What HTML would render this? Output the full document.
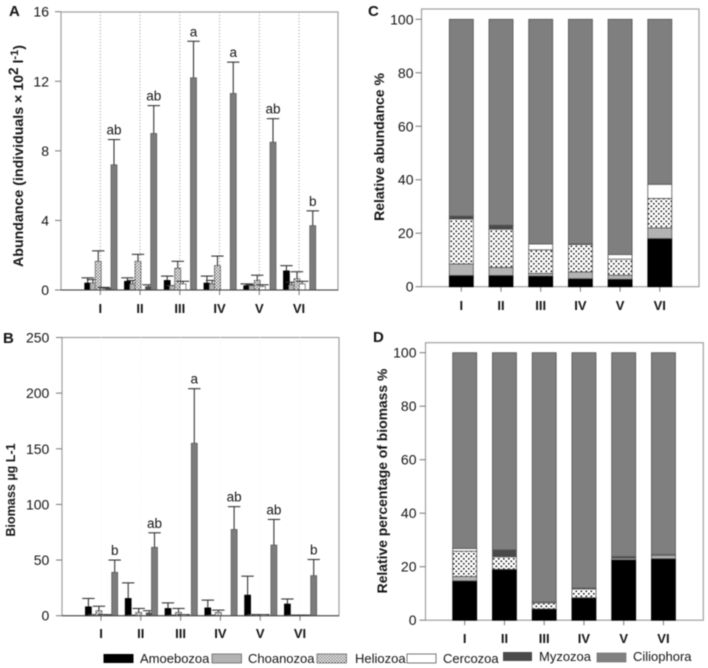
<!DOCTYPE html>
<html lang="en">
<head>
<meta charset="utf-8">
<title>Protist abundance and biomass</title>
<style>
html,body{margin:0;padding:0;background:#fff;}
body{width:708px;height:668px;overflow:hidden;}
svg{display:block;font-family:"Liberation Sans",sans-serif;filter:blur(0.4px);}
text{fill:#141414;}
</style>
</head>
<body>
<svg id="figure" xmlns="http://www.w3.org/2000/svg" width="708" height="668" viewBox="0 0 708 668">
  <defs>
    <pattern id="dots" width="5" height="5" patternUnits="userSpaceOnUse">
      <rect width="5" height="5" fill="#fff"/>
      <rect x="0.5" y="0.5" width="1.6" height="1.6" fill="#222"/>
      <rect x="3" y="3" width="1.6" height="1.6" fill="#222"/>
    </pattern>
    <pattern id="dense" width="3" height="3" patternUnits="userSpaceOnUse">
      <rect width="3" height="3" fill="#fff"/>
      <rect x="0" y="0" width="1.3" height="1.3" fill="#555"/>
      <rect x="1.5" y="1.5" width="1.3" height="1.3" fill="#555"/>
    </pattern>
  </defs>

  <g id="panelA"></g>
  <g id="panelB"></g>
  <g id="panelC"></g>
  <g id="panelD"></g>

  <text x="9" y="16" font-size="15" font-weight="bold">A</text>
  <text x="3" y="343" font-size="15" font-weight="bold">B</text>
  <text x="368" y="16" font-size="15" font-weight="bold">C</text>
  <text x="373" y="342" font-size="15" font-weight="bold">D</text>

  <text transform="translate(23,156) rotate(-90)" text-anchor="middle" font-size="14.2" font-weight="bold">Abundance (individuals × 10<tspan font-size="13.5" dy="-5">2</tspan><tspan dy="5"> l</tspan><tspan font-size="11" dy="-5">-1</tspan><tspan dy="5">)</tspan></text>
  <text transform="translate(15,490) rotate(-90)" text-anchor="middle" font-size="12.6" font-weight="bold">Biomass µg L-1</text>
  <text transform="translate(384,147) rotate(-90)" text-anchor="middle" font-size="14" font-weight="bold">Relative abundance %</text>
  <text transform="translate(387,481) rotate(-90)" text-anchor="middle" font-size="13.9" font-weight="bold">Relative percentage of biomass %</text>

  <g>
    <g>
      <rect x="103.5" y="654" width="30" height="9" fill="#000"/>
      <text x="140" y="663" font-size="13">Amoebozoa</text>
    </g>
    <g>
      <rect x="212" y="654" width="29.5" height="9" fill="#b3b3b3" stroke="#666" stroke-width="0.8"/>
      <text x="248" y="663" font-size="13">Choanozoa</text>
    </g>
    <g>
      <rect x="317" y="654" width="29.5" height="9" fill="url(#dense)" stroke="#666" stroke-width="0.8"/>
      <text x="355" y="663" font-size="13">Heliozoa</text>
    </g>
    <g>
      <rect x="407" y="654" width="29" height="9" fill="#fff" stroke="#555" stroke-width="0.8"/>
      <text x="443" y="663" font-size="13">Cercozoa</text>
    </g>
    <g>
      <rect x="503" y="652" width="29" height="9" fill="#4a4a4a"/>
      <text x="539" y="661" font-size="13">Myzozoa</text>
    </g>
    <g>
      <rect x="597" y="653" width="29" height="9" fill="#808080" stroke="#666" stroke-width="0.6"/>
      <text x="633" y="661" font-size="13">Ciliophora</text>
    </g>
  </g>
</svg>

<script>
// Shared categories and series
const categories = ['I', 'II', 'III', 'IV', 'V', 'VI'];
const seriesNames = ['amoebozoa', 'choanozoa', 'heliozoa', 'cercozoa', 'myzozoa', 'ciliophora'];

// Panel A: abundance means and upper error-bar tops (individuals x 10^2 per litre)
const abundanceAmoebozoa = [0.4, 0.5, 0.55, 0.4, 0.25, 1.1];
const abundanceChoanozoa = [0.4, 0.35, 0.25, 0.35, 0.25, 0.3];
const abundanceHeliozoa = [1.65, 1.65, 1.25, 1.4, 0.55, 0.65];
const abundanceCercozoa = [0.1, 0, 0.35, 0, 0.2, 0.35];
const abundanceMyzozoa = [0.05, 0.2, 0, 0, 0, 0];
const abundanceCiliophora = [7.2, 9, 12.2, 11.3, 8.5, 3.7];
const abundanceAmoebozoaErr = [0.7, 0.7, 0.8, 0.8, 0.35, 1.4];
const abundanceChoanozoaErr = [0.6, 0.55, 0.25, 0.55, 0.3, 0.45];
const abundanceHeliozoaErr = [2.25, 2.05, 1.65, 1.95, 0.85, 1.05];
const abundanceCercozoaErr = [0.15, 0, 0.5, 0, 0.3, 0.5];
const abundanceMyzozoaErr = [0.1, 0.3, 0, 0, 0, 0];
const abundanceCiliophoraErr = [8.65, 10.6, 14.3, 13.1, 9.85, 4.55];
const abundanceLetters = ['ab', 'ab', 'a', 'a', 'ab', 'b'];
const abundanceTicks = [0, 4, 8, 12, 16];

// Panel B: biomass means and upper error-bar tops (ug per litre)
const biomassAmoebozoa = [8, 15.5, 6.5, 7, 18.5, 10.5];
const biomassChoanozoa = [1, 0.5, 0.5, 0.5, 1, 0.5];
const biomassHeliozoa = [4.5, 3, 3, 3, 1, 0.5];
const biomassCercozoa = [1, 0, 1, 0, 1, 0.5];
const biomassMyzozoa = [1, 2.5, 0, 0, 0, 0.5];
const biomassCiliophora = [39, 61.5, 155, 77.5, 63.5, 36];
const biomassAmoebozoaErr = [15.5, 29.5, 11.5, 14, 35.5, 15];
const biomassChoanozoaErr = [1, 0.5, 0.5, 0.5, 1, 0.5];
const biomassHeliozoaErr = [8.5, 6.5, 6.5, 5, 1, 0.5];
const biomassCercozoaErr = [1, 0, 1, 0, 1, 0.5];
const biomassMyzozoaErr = [1, 4.5, 0, 0, 0, 0.5];
const biomassCiliophoraErr = [50, 74.5, 204, 98, 86.5, 50.5];
const biomassLetters = ['b', 'ab', 'a', 'ab', 'ab', 'b'];
const biomassTicks = [0, 50, 100, 150, 200, 250];

// Panel C: relative abundance (%), one segment per series
const relAbundanceAmoebozoa = [4.2, 4.2, 4, 3, 2.8, 18];
const relAbundanceChoanozoa = [4.3, 3, 1, 2.5, 1.5, 4];
const relAbundanceHeliozoa = [16.8, 14.3, 8.8, 10.3, 6, 11];
const relAbundanceCercozoa = [0, 0, 2.2, 0.2, 1.7, 5.3];
const relAbundanceMyzozoa = [1.1, 1.5, 0, 0, 0, 0];
const relAbundanceCiliophora = [73.6, 77, 84, 84, 88, 61.7];

// Panel D: relative biomass (%), one segment per series
const relBiomassAmoebozoa = [14.7, 19, 4.2, 8.4, 22.6, 23];
const relBiomassChoanozoa = [1.6, 0, 0, 0, 0.6, 1.2];
const relBiomassHeliozoa = [9.5, 4.7, 2.2, 3.3, 0, 0];
const relBiomassCercozoa = [1, 0, 0.4, 0.3, 0, 0.4];
const relBiomassMyzozoa = [0, 2.6, 0, 0, 0.6, 0];
const relBiomassCiliophora = [73.2, 73.7, 93.2, 88, 76.2, 75.4];
const percentTicks = [0, 20, 40, 60, 80, 100];

const NS = 'http://www.w3.org/2000/svg';
const fills = ['#000', '#b3b3b3', 'url(#dense)', '#fff', '#4a4a4a', '#7c7c7c'];
const stackFills = ['#000', '#b3b3b3', 'url(#dots)', '#fff', '#4a4a4a', '#7f7f7f'];

function make(parent, tag, attrs, txt) {
  const n = document.createElementNS(NS, tag);
  for (const k in attrs) n.setAttribute(k, attrs[k]);
  if (txt !== undefined) n.textContent = txt;
  parent.appendChild(n);
  return n;
}

function axisFrame(root, p, ticks, prefix) {
  const y = v => p.y0 + (p.y1 - p.y0) * (v - p.min) / (p.max - p.min);
  const frame = make(root, 'rect', {x: p.left, y: p.top, width: p.right - p.left, height: p.y0 - p.top, fill: '#fff', stroke: '#a0a0a0', 'stroke-width': 1.2});
  
  
  ticks.forEach(t => {
    const tick = make(root, 'line', {x1: p.left - 6, x2: p.left, y1: y(t), y2: y(t), stroke: '#777', 'stroke-width': 1});
    
    
    const label = make(root, 'text', {x: p.left - p.labelGap, y: y(t) + 5, 'text-anchor': 'end', 'font-size': 14}, String(t));
    
    
  });
  categories.forEach((c, i) => {
    const x = p.c0 + p.step * i;
    const tick = make(root, 'line', {x1: x, x2: x, y1: p.y0, y2: p.y0 + 5, stroke: '#777', 'stroke-width': 1});
    
    
    const label = make(root, 'text', {x: x, y: p.labelY, 'text-anchor': 'middle', 'font-size': 13, 'font-weight': 'bold'}, c);
    
    
  });
  return y;
}

function drawGrouped(rootId, prefix, p, ticks, means, errs, letters, guideColor) {
  const root = document.getElementById(rootId);
  const y = axisFrame(root, p, ticks, prefix);
  categories.forEach((c, i) => {
    const x = p.c0 + p.step * i;
    const guide = make(root, 'line', {x1: x, x2: x, y1: p.top, y2: p.y0, stroke: guideColor, 'stroke-width': 1, 'stroke-dasharray': '1 2'});
    
    
  });
  means.forEach((vals, s) => {
    vals.forEach((v, i) => {
      if (v <= 0) return;
      const cx = p.c0 + p.step * i - 12.6 + 5.26 * s;
      const top = y(v);
      const errTop = y(errs[s][i]);
      const stem = make(root, 'line', {x1: cx, x2: cx, y1: top, y2: errTop, stroke: '#333', 'stroke-width': 1.1});
      
      
      const cap = make(root, 'line', {x1: cx - 6.2, x2: cx + 6.2, y1: errTop, y2: errTop, stroke: '#333', 'stroke-width': 1.1});
      
      
      const bar = make(root, 'rect', {x: cx - 3, y: top, width: 6, height: p.y0 - top, fill: fills[s], stroke: s === 0 ? '#000' : '#555', 'stroke-width': 0.7});
      
      
    });
  });
  const axis = make(root, 'line', {x1: p.left, x2: p.right, y1: p.y0, y2: p.y0, stroke: '#444', 'stroke-width': 1});
  
  
  letters.forEach((l, i) => {
    const cx = p.c0 + p.step * i - 12.6 + 5.26 * 5;
    const mark = make(root, 'text', {x: cx, y: y(errs[5][i]) - 5, 'text-anchor': 'middle', 'font-size': 13.5}, l);
    
    
  });
}

function drawStacked(rootId, prefix, p, ticks, segments) {
  const root = document.getElementById(rootId);
  const y = axisFrame(root, p, ticks, prefix);
  categories.forEach((c, i) => {
    const x = p.c0 + p.step * i;
    let base = 0;
    segments.forEach((vals, s) => {
      const v = vals[i];
      if (v <= 0) return;
      const top = y(base + v);
      const seg = make(root, 'rect', {x: x - 12, y: top, width: 24, height: y(base) - top, fill: stackFills[s], stroke: s === 0 ? '#000' : '#555', 'stroke-width': 0.8});
      
      
      base += v;
    });
  });
}

drawGrouped('panelA', 'panel-a',
  {left: 61, right: 338, top: 12, y0: 290, y1: 11.7, min: 0, max: 16, c0: 100.3, step: 39.75, labelY: 313, labelGap: 12},
  abundanceTicks,
  [abundanceAmoebozoa, abundanceChoanozoa, abundanceHeliozoa, abundanceCercozoa, abundanceMyzozoa, abundanceCiliophora],
  [abundanceAmoebozoaErr, abundanceChoanozoaErr, abundanceHeliozoaErr, abundanceCercozoaErr, abundanceMyzozoaErr, abundanceCiliophoraErr],
  abundanceLetters, '#9a9a9a');

drawGrouped('panelB', 'panel-b',
  {left: 62, right: 339, top: 337.5, y0: 615.7, y1: 337.5, min: 0, max: 250, c0: 101, step: 39.8, labelY: 638, labelGap: 12.7},
  biomassTicks,
  [biomassAmoebozoa, biomassChoanozoa, biomassHeliozoa, biomassCercozoa, biomassMyzozoa, biomassCiliophora],
  [biomassAmoebozoaErr, biomassChoanozoaErr, biomassHeliozoaErr, biomassCercozoaErr, biomassMyzozoaErr, biomassCiliophoraErr],
  biomassLetters, '#f4f4f4');

drawStacked('panelC', 'panel-c',
  {left: 421.5, right: 699, top: 9, y0: 286.7, y1: 19.3, min: 0, max: 100, c0: 461.3, step: 39.7, labelY: 310, labelGap: 8},
  percentTicks,
  [relAbundanceAmoebozoa, relAbundanceChoanozoa, relAbundanceHeliozoa, relAbundanceCercozoa, relAbundanceMyzozoa, relAbundanceCiliophora]);

drawStacked('panelD', 'panel-d',
  {left: 425.5, right: 703.3, top: 342.7, y0: 620.2, y1: 352.7, min: 0, max: 100, c0: 464.7, step: 39.75, labelY: 643, labelGap: 9},
  percentTicks,
  [relBiomassAmoebozoa, relBiomassChoanozoa, relBiomassHeliozoa, relBiomassCercozoa, relBiomassMyzozoa, relBiomassCiliophora]);
</script>
</body>
</html>
